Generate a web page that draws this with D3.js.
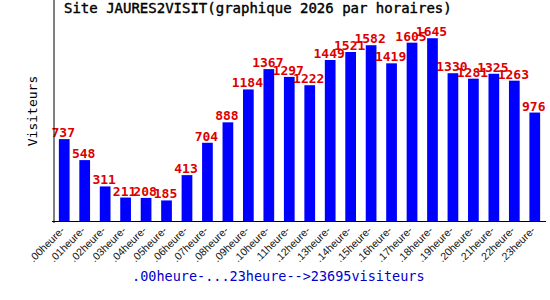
<!DOCTYPE html>
<html>
<head>
<meta charset="utf-8">
<script src="https://cdn.jsdelivr.net/npm/d3@7"></script>
<style>
  body { margin: 0; background: #fff; }
</style>
</head>
<body>
<div id="chart"></div>
<script>
// hours and visitor counts
const hours = ["00","01","02","03","04","05","06","07","08","09","10","11",
               "12","13","14","15","16","17","18","19","20","21","22","23"];
const visitors = [737, 548, 311, 211, 208, 185, 413, 704, 888, 1184, 1367, 1297,
                  1222, 1449, 1521, 1582, 1419, 1605, 1645, 1330, 1281, 1325, 1263, 976];
const tick_labels = hours.map(h => "." + h + "heure-");
const title = "Site JAURES2VISIT(graphique 2026 par horaires)";
const footer = ".00heure-...23heure-->23695visiteurs";
const y_max = 1989;

const width = 550, height = 300;
const margin = {top: 0, right: 5, bottom: 79, left: 54};
const mono = "'DejaVu Sans Mono', monospace";

const svg = d3.select("#chart").append("svg")
  .attr("width", width)
  .attr("height", height);

const x = d3.scaleBand()
  .domain(hours)
  .range([margin.left, width - margin.right])
  .paddingInner(0.476)
  .paddingOuter(0.238);

const y = d3.scaleLinear()
  .domain([0, y_max])
  .range([height - margin.bottom, margin.top]);

// bars
svg.append("g").selectAll("rect")
  .data(visitors)
  .enter().append("rect")
  .attr("x", (d, i) => x(hours[i]))
  .attr("y", d => y(d))
  .attr("width", x.bandwidth())
  .attr("height", d => y(0) - y(d))
  .attr("fill", "#0000ff");

// value labels
svg.append("g").selectAll("text")
  .data(visitors)
  .enter().append("text")
  .attr("x", (d, i) => x(hours[i]) + x.bandwidth() / 2 - 1)
  .attr("y", d => y(d) - 2)
  .attr("text-anchor", "middle")
  .attr("font-family", mono)
  .attr("font-weight", "bold")
  .attr("font-size", 13)
  .attr("fill", "#dd0000")
  .text(d => d);

// axes
svg.append("line")
  .attr("x1", margin.left).attr("x2", margin.left)
  .attr("y1", 0).attr("y2", y(0) + 2)
  .attr("stroke", "#000");
svg.append("line")
  .attr("x1", margin.left - 2).attr("x2", width - 4)
  .attr("y1", y(0) + 0.5).attr("y2", y(0) + 0.5)
  .attr("stroke", "#000");

// rotated hour labels
svg.append("g").selectAll("text")
  .data(tick_labels)
  .enter().append("text")
  .attr("transform", (d, i) =>
    `translate(${x(hours[i]) + x.bandwidth() / 2 + 1},${y(0) + 10}) rotate(-45)`)
  .attr("text-anchor", "end")
  .attr("font-family", "'Liberation Sans', Arial, sans-serif")
  .attr("font-size", 10.5)
  .attr("fill", "#111")
  .text(d => d);

// title
svg.append("text")
  .attr("x", 64).attr("y", 13)
  .attr("font-family", mono)
  .attr("font-size", 14)
  .attr("fill", "#000")
  .attr("stroke", "#000")
  .attr("stroke-width", 0.4)
  .text(title);

// y axis title
svg.append("text")
  .attr("transform", "translate(37,111) rotate(-90)")
  .attr("text-anchor", "middle")
  .attr("font-family", mono)
  .attr("font-size", 13)
  .attr("fill", "#000")
  .text("Visiteurs");

// footer
svg.append("text")
  .attr("x", 132).attr("y", 281)
  .attr("font-family", mono)
  .attr("font-size", 13.5)
  .attr("fill", "#0000cc")
  .text(footer);
</script>
</body>
</html>
